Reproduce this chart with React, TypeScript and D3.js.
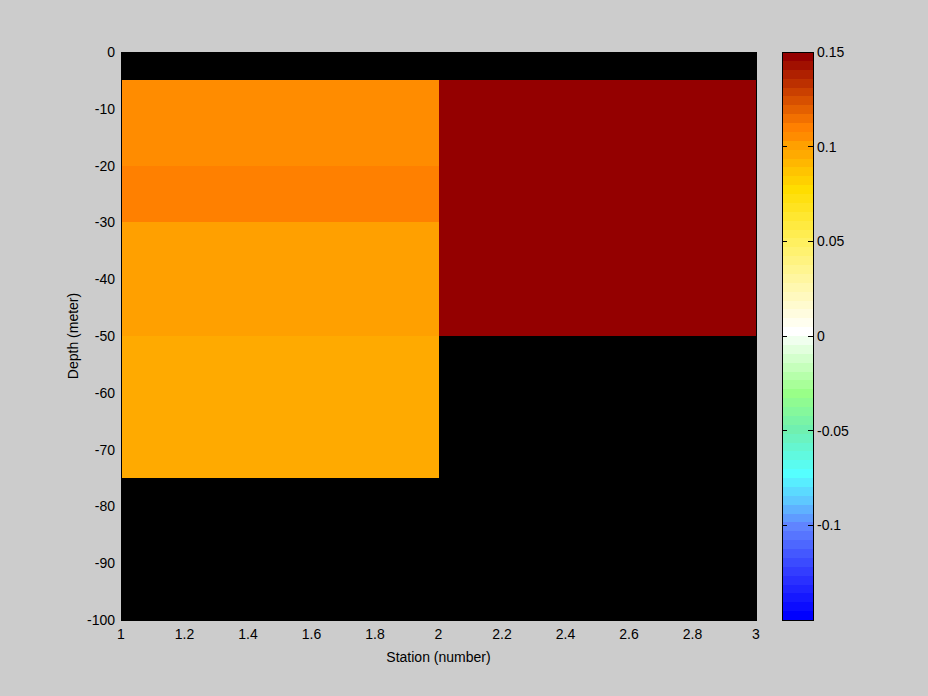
import React from "react";
import * as d3 from "d3";

const stationEdges = [1, 2, 3];
const depthEdges = [0, -5, -20, -30, -50, -75, -100];
// values per depth band (top to bottom), NaN = no data (drawn black)
const station1Values = [NaN, 0.105, 0.110, 0.101, 0.096, NaN];
const station2Values = [NaN, 0.148, 0.148, 0.148, NaN, NaN];
const xTicks = [1, 1.2, 1.4, 1.6, 1.8, 2, 2.2, 2.4, 2.6, 2.8, 3];
const yTicks = [0, -10, -20, -30, -40, -50, -60, -70, -80, -90, -100];
const cTicks = [0.15, 0.1, 0.05, 0, -0.05, -0.1];
const cDomain = [-0.15, 0.15];
const nLevels = 64;
// colormap anchors: [level index, colour]
const cmapAnchors: [number, string][] = [
  [0, "#0000ff"],
  [4, "#2a30ff"],
  [7, "#4458ff"],
  [10, "#6084ff"],
  [13, "#5ec8ff"],
  [16, "#55ffff"],
  [21, "#70f0b0"],
  [25, "#99ff88"],
  [32, "#ffffff"],
  [42, "#fff060"],
  [48, "#ffdd00"],
  [52, "#ffaa00"],
  [53, "#ffa000"],
  [54, "#ff8c00"],
  [55, "#ff8000"],
  [63, "#940000"],
];

function buildCmap(): string[] {
  const out: string[] = [];
  for (let k = 0; k < nLevels; k++) {
    let i = 0;
    while (i < cmapAnchors.length - 2 && cmapAnchors[i + 1][0] < k) i++;
    const [k0, c0] = cmapAnchors[i];
    const [k1, c1] = cmapAnchors[i + 1];
    const t = k1 === k0 ? 0 : (k - k0) / (k1 - k0);
    out.push(d3.color(d3.interpolateRgb(c0, c1)(Math.max(0, Math.min(1, t))))!.formatHex());
  }
  return out;
}
const cmap = buildCmap();

function colorFor(v: number): string {
  if (isNaN(v)) return "#000000";
  let k = Math.floor(((v - cDomain[0]) / (cDomain[1] - cDomain[0])) * nLevels);
  k = Math.max(0, Math.min(nLevels - 1, k));
  return cmap[k];
}

export default function App() {
  const W = 928, H = 696;
  const x = d3.scaleLinear().domain([1, 3]).range([121, 756]);
  const y = d3.scaleLinear().domain([0, -100]).range([52, 620]);
  const c = d3.scaleLinear().domain(cDomain).range([620, 52]);
  const cbX0 = 782, cbX1 = 813;
  const font = "'Liberation Sans', Arial, sans-serif";
  const fs = 14;
  const columns = [station1Values, station2Values];

  const cells: JSX.Element[] = [];
  columns.forEach((vals, si) => {
    vals.forEach((v, di) => {
      const x0 = x(stationEdges[si]), x1 = x(stationEdges[si + 1]);
      const y0 = y(depthEdges[di]), y1 = y(depthEdges[di + 1]);
      cells.push(
        <rect key={`c${si}-${di}`} x={x0} y={y0} width={x1 - x0} height={y1 - y0}
          fill={colorFor(v)} shapeRendering="crispEdges" />
      );
    });
  });

  const step = (cDomain[1] - cDomain[0]) / nLevels;
  const bands = cmap.map((col, k) => {
    const v0 = cDomain[0] + k * step, v1 = v0 + step;
    return (
      <rect key={`b${k}`} x={cbX0} y={c(v1)} width={cbX1 - cbX0} height={c(v0) - c(v1)}
        fill={col} shapeRendering="crispEdges" />
    );
  });

  return (
    <div style={{ position: "fixed", left: 0, top: 0 }}>
      <svg width={W} height={H} style={{ display: "block" }} fontFamily={font}>
        <rect x={0} y={0} width={W} height={H} fill="#cccccc" />
        {cells}
        <rect x={121} y={52} width={635} height={568} fill="none" stroke="#000" strokeWidth={1} shapeRendering="crispEdges" />
        {yTicks.map((t) => (
          <text key={`y${t}`} x={115} y={y(t)} textAnchor="end" dominantBaseline="central" fontSize={fs} fill="#000">{t}</text>
        ))}
        {xTicks.map((t) => (
          <text key={`x${t}`} x={x(t)} y={634} textAnchor="middle" dominantBaseline="central" fontSize={fs} fill="#000">{t}</text>
        ))}
        <text x={x(2)} y={657} textAnchor="middle" dominantBaseline="central" fontSize={fs} fill="#000">Station (number)</text>
        <text transform={`translate(73,${y(-50)}) rotate(-90)`} textAnchor="middle" dominantBaseline="central" fontSize={fs} fill="#000">Depth (meter)</text>
        {bands}
        <rect x={cbX0} y={52} width={cbX1 - cbX0} height={568} fill="none" stroke="#000" strokeWidth={1} shapeRendering="crispEdges" />
        {cTicks.map((t) => (
          <g key={`ct${t}`}>
            {t < 0.15 && (
              <>
                <line x1={cbX0} x2={cbX0 + 5} y1={c(t)} y2={c(t)} stroke="#000" shapeRendering="crispEdges" />
                <line x1={cbX1 - 5} x2={cbX1} y1={c(t)} y2={c(t)} stroke="#000" shapeRendering="crispEdges" />
              </>
            )}
            <text x={817} y={c(t)} dominantBaseline="central" fontSize={fs} fill="#000">{t}</text>
          </g>
        ))}
      </svg>
    </div>
  );
}
